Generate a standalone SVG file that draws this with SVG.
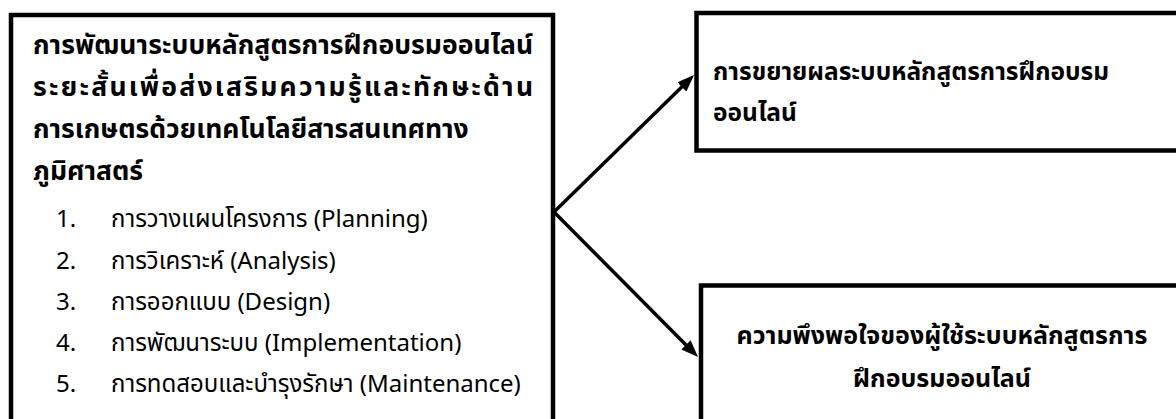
<svg xmlns="http://www.w3.org/2000/svg" width="1176" height="419" viewBox="0 0 1176 419">
<style>
.box{fill:#fff;stroke:#000;stroke-width:4.5}
.t{font-family:"Noto Sans Thai","Tahoma","Leelawadee UI","Noto Sans","DejaVu Sans",sans-serif;fill:#000}
.h{font-weight:bold;font-size:26.5px}
.r{font-weight:normal;font-size:24px}
.k{font-weight:bold;font-size:24.5px}
.conn{stroke:#000;stroke-width:3.5;fill:none}
</style>
<defs>
<marker id="ah" markerWidth="17" markerHeight="13" refX="7" refY="6.5" orient="auto" markerUnits="userSpaceOnUse">
<path d="M0,0 L17,6.5 L0,13 z" fill="#000"/>
</marker>
</defs>
<rect width="1176" height="419" fill="#fff"/>
<g id="main">
<rect class="box" x="11" y="15" width="542" height="430"/>
<text class="t h" x="33" y="54" textLength="500" lengthAdjust="spacing">การพัฒนาระบบหลักสูตรการฝึกอบรมออนไลน์</text>
<text class="t h" x="33" y="96" textLength="500" lengthAdjust="spacing">ระยะสั้นเพื่อส่งเสริมความรู้และทักษะด้าน</text>
<text class="t h" x="33" y="138">การเกษตรด้วยเทคโนโลยีสารสนเทศทาง</text>
<text class="t h" x="33" y="180">ภูมิศาสตร์</text>
<text class="t r" x="56" y="227">1.</text>
<text class="t r" x="111" y="227">การวางแผนโครงการ (Planning)</text>
<text class="t r" x="56" y="268.5">2.</text>
<text class="t r" x="111" y="268.5">การวิเคราะห์ (Analysis)</text>
<text class="t r" x="56" y="310">3.</text>
<text class="t r" x="111" y="310">การออกแบบ (Design)</text>
<text class="t r" x="56" y="351">4.</text>
<text class="t r" x="111" y="351">การพัฒนาระบบ (Implementation)</text>
<text class="t r" x="56" y="392">5.</text>
<text class="t r" x="111" y="392">การทดสอบและบำรุงรักษา (Maintenance)</text>
</g>
<g id="expand">
<rect class="box" x="696.5" y="13" width="540" height="137.5"/>
<text class="t k" x="713" y="80">การขยายผลระบบหลักสูตรการฝึกอบรม</text>
<text class="t k" x="713" y="121">ออนไลน์</text>
</g>
<g id="satisfaction">
<rect class="box" x="701" y="285.5" width="540" height="160"/>
<text class="t k" x="942" y="344" text-anchor="middle" style="font-size:25px">ความพึงพอใจของผู้ใช้ระบบหลักสูตรการ</text>
<text class="t k" x="942" y="387" text-anchor="middle" style="font-size:25px">ฝึกอบรมออนไลน์</text>
</g>
<g id="connectors">
<line class="conn" x1="554" y1="212" x2="686.85" y2="82" marker-end="url(#ah)"/>
<line class="conn" x1="554" y1="212" x2="690.96" y2="349.9" marker-end="url(#ah)"/>
</g>
</svg>
